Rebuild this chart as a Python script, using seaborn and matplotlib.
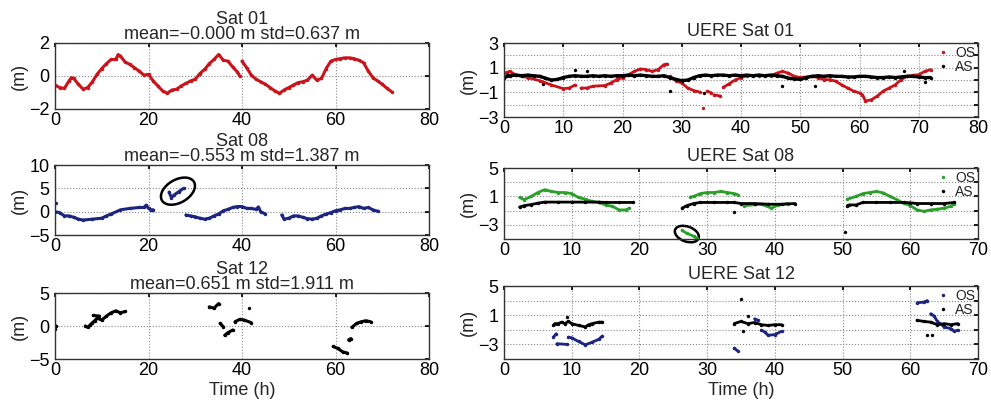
import numpy as np
import pandas as pd
import matplotlib
matplotlib.use("Agg")
import matplotlib.pyplot as plt
from matplotlib.patches import Ellipse
from matplotlib.lines import Line2D
from matplotlib.transforms import ScaledTranslation
import seaborn as sns

nan = np.nan

# ---- left column: Sat 01 / 08 / 12 residuals (m) vs time (h) ----
sat01_t = [0, 1, 2, 3, 3.5, 4, 5, 6, 7, 8, 9, 10, 11, 12, 13, 13.5, 14, 15, 16, 17, 18, 19, 20,
           21, 22, 23, 24, 25, 26, 27, 28, 29, 30, 31, 32, 33, 34, 35, 36, 37, 38, 39, 39.5, nan,
           40, 41, 42, 43, 44, 45, 46, 47, 48, 49, 50, 51, 52, 53, 54, 55, 56, 57, 58, 59, 60,
           61, 62, 63, 64, 65, 66, 67, 68, 69, 70, 71, 72]
sat01_v = [-0.55, -0.7, -0.75, -0.3, -0.1, -0.15, -0.5, -0.8, -0.7, -0.35, 0.1, 0.45, 0.75, 1.0,
           1.0, 1.3, 1.2, 0.85, 0.7, 0.5, 0.3, 0.05, 0.1, -0.3, -0.6, -0.9, -1.05, -0.85, -0.8,
           -0.6, -0.45, -0.3, -0.2, 0.15, 0.4, 0.75, 1.0, 1.3, 0.95, 0.9, 0.55, 0.25, 0.0, nan,
           0.9, 0.5, 0.05, -0.2, -0.35, -0.5, -0.7, -0.9, -1.05, -0.85, -0.7, -0.55, -0.4, -0.35,
           -0.25, 0.05, -0.25, -0.15, 0.45, 0.9, 1.0, 1.05, 1.1, 1.1, 1.05, 0.95, 0.8, 0.3, -0.1,
           -0.3, -0.5, -0.75, -0.95]

sat08_t = [0, 1, 2, 3, 4, 5, 6, 8, 10, 11, 12, 14, 16, 18, 19, 19.5, 20, 20.5, 21, nan,
           24.4, 24.9, 25.5, 26.5, 27.5, nan,
           28, 29, 30, 31, 32, 33, 34, 35, 36, 37, 38, 39, 40, 41, 42, 43, 43.5, 44, 45, nan,
           48.5, 49, 50, 51, 52, 53, 54, 55, 56, 57, 58, 59, 60, 61, 62, 63, 64, 65, 66, 67, 68, 69]
sat08_v = [0.0, -0.2, -0.9, -0.9, -1.2, -1.6, -1.8, -1.6, -1.4, -0.9, -0.5, 0.4, 0.7, 0.9, 0.9,
           1.4, 0.7, 0.4, 0.4, nan,
           4.2, 3.0, 3.6, 4.3, 5.0, nan,
           -0.7, -0.9, -1.1, -1.4, -1.6, -1.4, -0.9, -0.5, 0.2, 0.5, 0.9, 1.1, 1.1, 0.7, 0.7, 0.5,
           1.0, 0.0, -0.5, nan,
           -0.7, -1.6, -1.4, -0.9, -0.9, -1.2, -1.5, -1.6, -1.4, -0.9, -0.5, -0.2, 0.2, 0.4, 0.7,
           0.7, 0.9, 1.1, 0.7, 0.9, 0.4, 0.1]

sat12_t = [0, 0.2, nan, 6.5, 7, 7.5, 8, 8.5, 9, 10, 11, 12, 13, 14, 15, nan,
           8.2, 9.5, nan, 33, 34, 35, nan, 35.3, 36, nan, 36.3, 37, 38, nan,
           38.5, 39.5, 40.5, 42, nan, 59.5, 60.5, 61.5, 62.5, nan, 62.8, 63.3, nan,
           63.5, 64.5, 65.5, 66.5, 67.5]
sat12_v = [-0.5, 0.0, nan, 0.0, -0.2, 0.15, 0.5, 0.8, 1.2, 0.9, 1.5, 2.0, 2.3, 2.0, 2.2, nan,
           1.6, 1.5, nan, 2.9, 2.7, 3.4, nan, 0.4, -0.1, nan, -1.4, -1.0, -0.6, nan,
           0.65, 1.0, 0.9, 0.5, nan, -3.1, -3.4, -3.9, -4.1, nan, -2.1, -1.9, nan,
           -0.2, 0.4, 0.65, 0.8, 0.65]

# ---- right column: UERE, OS vs AS ----
u01_as_t = list(range(0, 73))
u01_as_v = [0.2, 0.35, 0.4, 0.35, 0.4, 0.35, 0.3, 0.15, 0.0, 0.05, 0.2, 0.3, 0.35, 0.3, 0.3, 0.35,
            0.3, 0.35, 0.3, 0.35, 0.35, 0.4, 0.35, 0.4, 0.35, 0.3, 0.3, 0.35, 0.2, 0.05, -0.05,
            0.0, 0.2, 0.35, 0.4, 0.35, 0.4, 0.4, 0.35, 0.4, 0.35, 0.4, 0.35, 0.4, 0.35, 0.4, 0.35,
            0.3, 0.15, 0.1, 0.05, 0.2, 0.3, 0.35, 0.3, 0.35, 0.3, 0.3, 0.25, 0.25, 0.3, 0.3, 0.25,
            0.2, 0.2, 0.25, 0.2, 0.25, 0.3, 0.3, 0.25, 0.2, 0.2]
u01_as_out_t = [0.5, 6.5, 12, 14, 28, 33.8, 47, 48, 52.5, 67.5, 71]
u01_as_out_v = [0.6, -0.3, 0.8, 0.7, -0.9, -1.05, -0.5, 0.6, -0.5, 0.7, -0.15]
u01_os_t = [0, 1, 2, 4, 6, 8, 10, 11, 12, nan, 13, 14, 15, 17, 18, 19, 20, 21, 22, 23, 24, 25,
            26, 27, 27.5, nan, 28, 29, 30, 31, 32, 33, nan, 34.3, 35, nan, 35.5, 36.5, nan,
            37, 38, 39, 40, 41, 43, 45, 46, 47, 48, 49, 50, 52, 53, 54, 55, 56, 57, 58, 59, 60,
            60.5, 61, 62, 63, 64, 65, 66, 67, 68, 69, 70, 71, 72]
u01_os_v = [0.55, 0.7, 0.4, 0.2, -0.05, -0.4, -0.7, -0.65, -0.4, nan, -0.65, -0.65, -0.5, -0.45,
            -0.25, 0.03, 0.2, 0.43, 0.7, 0.9, 0.85, 0.7, 0.85, 1.25, 1.3, nan, 0.3, -0.05, -0.25,
            -0.65, -0.85, -0.97, nan, -0.9, -1.05, nan, -1.2, -1.3, nan,
            -0.6, -0.3, 0.0, 0.2, 0.35, 0.35, 0.35, 0.55, 0.7, 0.55, 0.3, 0.2, 0.3, 0.2, 0.03,
            0.03, -0.1, -0.4, -0.65, -0.9, -1.05, -1.2, -1.7, -1.6, -1.3, -0.9, -0.65, -0.4, 0.03,
            0.3, 0.38, 0.43, 0.7, 0.84]
u01_os_out_t = [33.5]
u01_os_out_v = [-2.3]

u08_as_t = [2.3, 3, 4, 5, 6, 8, 10, 12, 14, 15, 17, 19, nan,
            26.3, 27, 28, 29, 31, 33, 34, 35, 37, 39, 41, 43, nan,
            50.7, 51, 52, 53, 55, 57, 59, 60, 61, 63, 65, 66.5]
u08_as_v = [-0.5, -0.3, -0.15, 0.05, 0.2, 0.2, 0.2, 0.2, 0.2, 0.15, 0.15, 0.15, nan,
            -0.65, -0.3, 0.0, 0.15, 0.15, 0.15, 0.15, 0.0, 0.0, -0.1, -0.1, 0.0, nan,
            -0.3, -0.2, -0.2, 0.15, 0.15, 0.15, 0.15, 0.1, 0.0, 0.0, 0.0, 0.15]
u08_as_out_t = [34, 50.3]
u08_as_out_v = [-1.25, -4.0]
u08_os_t = [2.3, 3, 4, 5, 6, 7, 8, 9, 10, 11, 12, 13, 14, 15, 16, 17, 18, 18.5, nan,
            26.3, 27, 28, 28.5, nan,
            27.5, 28, 29, 30, 31, 32, 33, 34, 34.5, nan,
            35.5, 38, 39.5, 40.5, 42, nan,
            50.7, 52, 53, 54, 55, 56, 57, 58, 59, 60, 61, 62, 63, 64, 65, 66, 66.5]
u08_os_v = [0.85, 0.55, 1.0, 1.55, 1.95, 1.7, 1.55, 1.55, 1.4, 0.85, 0.6, 0.3, 0.15, -0.2, -0.4,
            -0.9, -0.9, -0.65, nan,
            -3.8, -4.2, -4.6, -4.9, nan,
            0.9, 1.0, 1.4, 1.55, 1.55, 1.7, 1.55, 1.4, 1.25, nan,
            -0.3, -0.1, -0.65, -0.2, 0.0, nan,
            0.6, 1.0, 1.4, 1.55, 1.7, 1.5, 1.0, 0.55, 0.05, -0.3, -0.9, -1.1, -0.9, -0.8, -0.65,
            -0.4, 0.0]

u12_as_t = [7.3, 7.5, 8, 8.5, 9, 9.5, 10, 11, 12, 12.5, 13, 14, 14.5, nan,
            34, 35, 36, 37, 38, 39, 40, 41, nan,
            61, 62, 63, 64, 65, 66, 67]
u12_as_v = [-0.4, -0.15, -0.15, 0.05, -0.15, 0.15, -0.15, -0.4, -0.6, -0.3, -0.15, 0.05, 0.05, nan,
            -0.15, 0.15, -0.15, 0.0, -0.3, -0.4, -0.3, -0.3, nan,
            0.3, 0.15, 0.05, -0.3, -0.15, -0.3, -0.15]
u12_as_out_t = [9.3, 35, 35.3, 36, 62.5, 63.2]
u12_as_out_v = [0.75, 3.2, -1.2, 0.85, -1.65, -1.65]
u12_os_t = [7.3, 7.7, nan, 7.8, 9.3, nan, 9.5, 10, 11, 12, 13, 14, 14.5, nan,
            34, 34.5, nan, 37, 37.5, nan, 38, 38.5, 39, 40, 41, nan,
            61, 62, 62.5, nan, 63, 63.5, 64, 65, 66, 66.5, 67]
u12_os_v = [-2.0, -1.55, nan, -2.9, -3.0, nan, -2.0, -2.1, -2.6, -3.05, -2.7, -2.3, -1.85, nan,
            -3.5, -3.9, nan, 0.5, 0.3, nan, -1.05, -1.3, -1.75, -1.65, -1.2, nan,
            2.7, 2.8, 3.0, nan, 1.2, 0.9, 0.15, -0.6, -0.85, -1.2, -1.05]


def to_frame(t, v):
    df = pd.DataFrame({"t": t, "v": v})
    df["seg"] = df["v"].isna().cumsum()
    return df.dropna()


def draw(ax, t, v, color, lw=2.2):
    sns.lineplot(data=to_frame(t, v), x="t", y="v", units="seg", estimator=None,
                 color=color, lw=lw, marker="o", ms=2.5, mew=0, ax=ax, legend=False)


def dots(ax, t, v, color):
    sns.scatterplot(x=t, y=v, color=color, s=6, linewidth=0, ax=ax, legend=False)


def circle(ax, x, y, w, h, ang):
    tr = fig.dpi_scale_trans + ScaledTranslation(x, y, ax.transData)
    ax.add_patch(Ellipse((0, 0), w / 100, h / 100, angle=ang, fill=False, ec="black",
                         lw=1.8, transform=tr, clip_on=False))


sns.set_theme(style="white")
plt.rcParams["font.family"] = ["Liberation Sans", "DejaVu Sans"]
plt.rcParams["axes.unicode_minus"] = True

fig = plt.figure(figsize=(9.91, 4.09), dpi=100)
L = [fig.add_axes([0.0555, 0.7335, 0.3774, 0.1614]),
     fig.add_axes([0.0555, 0.4254, 0.3774, 0.1711]),
     fig.add_axes([0.0555, 0.1222, 0.3774, 0.1614])]
R = [fig.add_axes([0.5086, 0.7139, 0.4783, 0.1809]),
     fig.add_axes([0.5086, 0.4156, 0.4783, 0.1736]),
     fig.add_axes([0.5086, 0.1222, 0.4783, 0.1785])]

red = "#c8141a"
navy = "#1c2580"
green = "#2aa02a"

draw(L[0], sat01_t, sat01_v, red)
draw(L[1], sat08_t, sat08_v, navy)
dots(L[1], [0.3], [1.8], navy)
draw(L[2], sat12_t, sat12_v, "black")
dots(L[2], [41.5], [2.7], "black")

draw(R[0], u01_os_t, u01_os_v, red, lw=2.0)
dots(R[0], u01_os_out_t, u01_os_out_v, red)
draw(R[0], u01_as_t, u01_as_v, "black", lw=2.4)
dots(R[0], u01_as_out_t, u01_as_out_v, "black")

draw(R[1], u08_os_t, u08_os_v, green, lw=2.0)
draw(R[1], u08_as_t, u08_as_v, "black", lw=2.0)
dots(R[1], u08_as_out_t, u08_as_out_v, "black")

draw(R[2], u12_os_t, u12_os_v, navy, lw=2.0)
draw(R[2], u12_as_t, u12_as_v, "black", lw=2.0)
dots(R[2], u12_as_out_t, u12_as_out_v, "black")

left_titles = ["Sat 01\nmean=\u22120.000 m std=0.637 m",
               "Sat 08\nmean=\u22120.553 m std=1.387 m",
               "Sat 12\nmean=0.651 m std=1.911 m"]
left_ylim = [(-2, 2), (-5, 10), (-5, 5)]
left_yticks = [[-2, 0, 2], [-5, 0, 5, 10], [-5, 0, 5]]
for ax, title, lim, yt in zip(L, left_titles, left_ylim, left_yticks):
    ax.set_xlim(0, 80)
    ax.set_xticks([0, 20, 40, 60, 80])
    ax.set_ylim(*lim)
    ax.set_yticks(yt)
    ax.set_title(title, fontsize=13, linespacing=0.82, pad=3)

right_titles = ["UERE Sat 01", "UERE Sat 08", "UERE Sat 12"]
os_colors = [red, green, navy]
for i, ax in enumerate(R):
    ax.set_title(right_titles[i], fontsize=13, pad=5)
    if i == 0:
        ax.set_xlim(0, 80)
        ax.set_xticks(range(0, 81, 10))
        ax.set_ylim(-3, 3)
        ax.set_yticks([-3, -2, -1, 0, 1, 2, 3])
        ax.set_yticklabels(["\u22123", "", "\u22121", "", "1", "", "3"])
    else:
        ax.set_xlim(0, 70)
        ax.set_xticks(range(0, 71, 10))
        ax.set_ylim(-5, 5)
        ax.set_yticks([-5, -3, -1, 1, 3, 5])
        ax.set_yticklabels(["", "\u22123", "", "1", "", "5"])
    handles = [Line2D([], [], ls="", marker="o", ms=2.5, mew=0, color=os_colors[i]),
               Line2D([], [], ls="", marker="o", ms=2.5, mew=0, color="black")]
    ax.legend(handles, ["OS", "AS"], loc="upper right", frameon=False, fontsize=10,
              handlelength=0.8, handletextpad=0.5, labelspacing=0.0,
              borderaxespad=0.1, borderpad=0.1)

for ax in L + R:
    ax.grid(True, ls=":", color="#888888", lw=0.8)
    ax.tick_params(direction="in", length=3, labelsize=13, top=True, right=True,
                   colors="black")
    ax.tick_params(axis="x", pad=2)
    ax.tick_params(axis="y", pad=4)
    for s in ax.spines.values():
        s.set_color("#333333")
        s.set_linewidth(1.0)
    ax.set_xlabel("")
    ax.set_ylabel("(m)", fontsize=13, labelpad=1)

L[2].set_xlabel("Time (h)", fontsize=13, labelpad=2)
R[2].set_xlabel("Time (h)", fontsize=13, labelpad=2)

circle(L[1], 26.3, 4.4, 37, 23, 30)
circle(R[1], 27.0, -4.3, 25, 15, -20)

fig.savefig("out.png", dpi=100)
